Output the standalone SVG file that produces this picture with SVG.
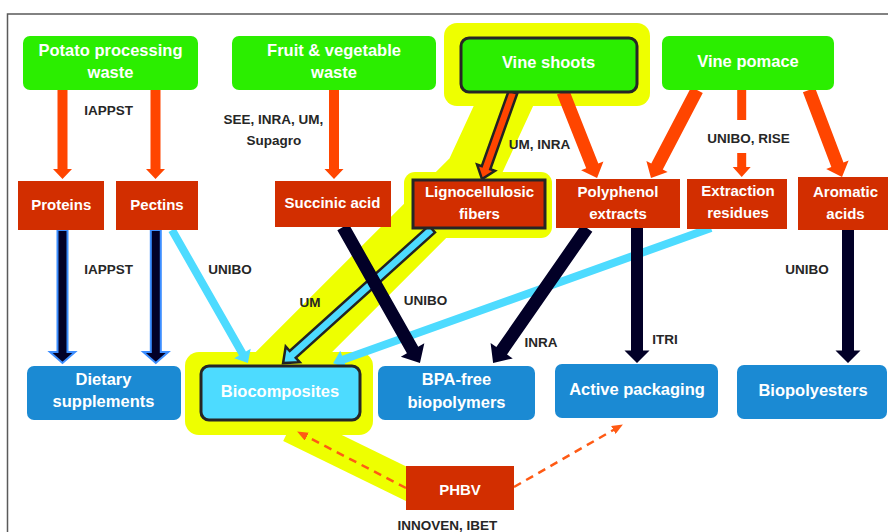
<svg xmlns="http://www.w3.org/2000/svg" width="888" height="532" viewBox="0 0 888 532">
  <defs>
    <style>
      .green { fill: #2BEE00; }
      .red { fill: #D22E00; }
      .blue { fill: #1B8AD3; }
      .outlined { stroke: #262626; stroke-width: 3; }
      .halo { fill: #EEFF00; }
      .t { font-family: "Liberation Sans", Arial, sans-serif; font-weight: bold; fill: #FFFFFF; text-anchor: middle; }
      .t16 { font-size: 16.5px; }
      .t15 { font-size: 15px; }
      .lbl { font-family: "Liberation Sans", Arial, sans-serif; font-weight: bold; font-size: 13.5px; fill: #262626; text-anchor: middle; }
      .orange { fill: #FF4500; }
      .navy { fill: #020027; }
      .navy-edged { fill: #020027; stroke: #3D8EFF; stroke-width: 2; stroke-linejoin: miter; }
      .cyan { fill: #4DDBFF; }
      .edged { stroke: #222222; stroke-width: 2.5; stroke-linejoin: miter; }
      .dashed { fill: none; stroke: #FF5A14; stroke-width: 2.5; stroke-dasharray: 8 6; }
    </style>
    <marker id="dash-head" markerUnits="userSpaceOnUse" markerWidth="11" markerHeight="9" refX="2" refY="4.5" orient="auto">
      <path d="M0,0 L11,4.5 L0,9 z" fill="#FF5A14"/>
    </marker>
  </defs>

  <rect width="888" height="532" fill="#FFFFFF"/>

  <!-- page frame -->
  <path d="M7.5,532 V14 H888" fill="none" stroke="#5A5A5A" stroke-width="1.5"/>

  <!-- highlighted route: vine shoots -> fibres -> biocomposites <- PHBV -->
  <g id="highlight">
    <polyline points="520,70 472,174 272,374" fill="none" stroke="#EEFF00" stroke-width="54" stroke-linejoin="round"/>
    <line x1="290" y1="427" x2="425" y2="493" stroke="#EEFF00" stroke-width="31"/>
    <rect class="halo" x="444" y="23" width="206" height="83" rx="13"/>
    <rect class="halo" x="404" y="172" width="148" height="66" rx="11"/>
    <rect class="halo" x="185" y="352" width="188" height="83" rx="14"/>
  </g>

  <!-- connectors -->
  <g id="connectors">
    <!-- light blue: into biocomposites -->
    <polygon class="cyan" transform="translate(172,230) rotate(60.3)" points="0,-4 142.2,-4 142.2,-9.5 153.2,0 142.2,9.5 142.2,4 0,4"/>
    <polygon class="cyan" transform="translate(711,228) rotate(160.3)" points="0,-4 390.4,-4 390.4,-9.5 401.4,0 390.4,9.5 390.4,4 0,4"/>
    <polygon class="cyan edged" transform="translate(432,229) rotate(138)" points="0,-4.5 187.4,-4.5 187.4,-10.5 200.4,0 187.4,10.5 187.4,4.5 0,4.5"/>

    <!-- dark: products -->
    <polygon class="navy-edged" transform="translate(62.5,230) rotate(90)" points="0,-5 122,-5 122,-12.5 133,0 122,12.5 122,5 0,5"/>
    <polygon class="navy-edged" transform="translate(155.8,230) rotate(90)" points="0,-5 122,-5 122,-12.5 133,0 122,12.5 122,5 0,5"/>
    <polygon class="navy" transform="translate(343,227) rotate(60.5)" points="0,-6.5 141.3,-6.5 141.3,-13.5 156.3,0 141.3,13.5 141.3,6.5 0,6.5"/>
    <polygon class="navy" transform="translate(587,228) rotate(124.8)" points="0,-6.5 149.5,-6.5 149.5,-13.5 164.5,0 149.5,13.5 149.5,6.5 0,6.5"/>
    <polygon class="navy" transform="translate(637,228) rotate(90)" points="0,-6 122.5,-6 122.5,-12.5 135,0 122.5,12.5 122.5,6 0,6"/>
    <polygon class="navy" transform="translate(848,230) rotate(90)" points="0,-6 120.5,-6 120.5,-12.5 133,0 120.5,12.5 120.5,6 0,6"/>

    <!-- orange: raw material -> intermediates -->
    <polygon class="orange" transform="translate(62.5,90) rotate(90)" points="0,-5 79,-5 79,-9.5 89,0 79,9.5 79,5 0,5"/>
    <polygon class="orange" transform="translate(155.5,90) rotate(90)" points="0,-5 79,-5 79,-9.5 89,0 79,9.5 79,5 0,5"/>
    <polygon class="orange" transform="translate(334,90) rotate(90)" points="0,-5 79,-5 79,-9.5 89,0 79,9.5 79,5 0,5"/>
    <polygon class="orange" transform="translate(563,92) rotate(68.4)" points="0,-6.5 79.5,-6.5 79.5,-12 92.5,0 79.5,12 79.5,6.5 0,6.5"/>
    <polygon class="orange" transform="translate(697,90) rotate(117.6)" points="0,-6.5 86.3,-6.5 86.3,-12 99.3,0 86.3,12 86.3,6.5 0,6.5"/>
    <rect class="orange" x="737.2" y="90" width="9" height="30"/>
    <polygon class="orange" transform="translate(741.7,153) rotate(90)" points="0,-4.5 14,-4.5 14,-9 24,0 14,9 14,4.5 0,4.5"/>
    <polygon class="orange" transform="translate(809,90) rotate(69.2)" points="0,-6.5 80,-6.5 80,-12 93,0 80,12 80,6.5 0,6.5"/>
    <polygon class="orange edged" transform="translate(513,92) rotate(109.6)" points="0,-4.5 80.4,-4.5 80.4,-9.5 92.4,0 80.4,9.5 80.4,4.5 0,4.5"/>

    <!-- dashed: PHBV -->
    <line class="dashed" x1="406" y1="488" x2="305.1" y2="435.7" marker-end="url(#dash-head)"/>
    <line class="dashed" x1="514" y1="487" x2="615.1" y2="429" marker-end="url(#dash-head)"/>
  </g>

  <!-- connector labels -->
  <g id="labels">
    <text class="lbl" x="108.7" y="115">IAPPST</text>
    <text class="lbl" x="273.5" y="124">SEE, INRA, UM,</text>
    <text class="lbl" x="273.8" y="144.5">Supagro</text>
    <text class="lbl" x="539.5" y="148.5">UM, INRA</text>
    <text class="lbl" x="748.5" y="143">UNIBO, RISE</text>
    <text class="lbl" x="108.7" y="274">IAPPST</text>
    <text class="lbl" x="230" y="274">UNIBO</text>
    <text class="lbl" x="310" y="307">UM</text>
    <text class="lbl" x="425.5" y="305">UNIBO</text>
    <text class="lbl" x="541" y="347">INRA</text>
    <text class="lbl" x="665" y="344">ITRI</text>
    <text class="lbl" x="807" y="274">UNIBO</text>
    <text class="lbl" x="447.5" y="530">INNOVEN, IBET</text>
  </g>

  <!-- raw materials -->
  <g id="potato-waste">
    <rect class="green" x="23" y="36" width="175" height="54" rx="7"/>
    <text class="t t16" x="110.5" y="56">Potato processing</text>
    <text class="t t16" x="110.5" y="78">waste</text>
  </g>
  <g id="fruit-veg-waste">
    <rect class="green" x="232" y="36" width="204" height="54" rx="7"/>
    <text class="t t16" x="334" y="56">Fruit &amp; vegetable</text>
    <text class="t t16" x="334" y="78">waste</text>
  </g>
  <g id="vine-shoots">
    <rect class="green outlined" x="461" y="38" width="176" height="54" rx="8"/>
    <text class="t t16" x="548.5" y="68">Vine shoots</text>
  </g>
  <g id="vine-pomace">
    <rect class="green" x="662" y="36" width="172" height="54" rx="7"/>
    <text class="t t16" x="748" y="67">Vine pomace</text>
  </g>

  <!-- intermediates -->
  <g id="proteins">
    <rect class="red" x="18" y="181" width="86" height="49"/>
    <text class="t t15" x="61.3" y="209.5">Proteins</text>
  </g>
  <g id="pectins">
    <rect class="red" x="116" y="181" width="82" height="49"/>
    <text class="t t15" x="157" y="209.5">Pectins</text>
  </g>
  <g id="succinic-acid">
    <rect class="red" x="275" y="181" width="116" height="46"/>
    <text class="t t15" x="332.5" y="208">Succinic acid</text>
  </g>
  <g id="lignocellulosic-fibers">
    <rect class="red outlined" x="413" y="180" width="132" height="48"/>
    <text class="t t15" x="479.5" y="197">Lignocellulosic</text>
    <text class="t t15" x="479.5" y="218.5">fibers</text>
  </g>
  <g id="polyphenol-extracts">
    <rect class="red" x="556" y="179" width="124" height="49"/>
    <text class="t t15" x="618" y="197">Polyphenol</text>
    <text class="t t15" x="618" y="218.5">extracts</text>
  </g>
  <g id="extraction-residues">
    <rect class="red" x="687" y="179" width="100" height="50"/>
    <text class="t t15" x="738" y="196">Extraction</text>
    <text class="t t15" x="738" y="217.5">residues</text>
  </g>
  <g id="aromatic-acids">
    <rect class="red" x="798" y="177" width="90" height="53"/>
    <text class="t t15" x="845.5" y="197">Aromatic</text>
    <text class="t t15" x="845.5" y="218.5">acids</text>
  </g>

  <!-- products -->
  <g id="dietary-supplements">
    <rect class="blue" x="27" y="366" width="154" height="54" rx="7"/>
    <text class="t t16" x="103.5" y="385">Dietary</text>
    <text class="t t16" x="103.5" y="407">supplements</text>
  </g>
  <g id="biocomposites">
    <rect fill="#4DDBFF" class="outlined" x="201" y="366" width="159" height="54" rx="8"/>
    <text class="t t16" x="280" y="397">Biocomposites</text>
  </g>
  <g id="bpa-free-biopolymers">
    <rect class="blue" x="378" y="366" width="157" height="54" rx="7"/>
    <text class="t t16" x="456.5" y="385">BPA-free</text>
    <text class="t t16" x="456.5" y="408">biopolymers</text>
  </g>
  <g id="active-packaging">
    <rect class="blue" x="555" y="364" width="163" height="54" rx="7"/>
    <text class="t t16" x="637" y="394.5">Active packaging</text>
  </g>
  <g id="biopolyesters">
    <rect class="blue" x="737" y="365" width="150" height="54" rx="7"/>
    <text class="t t16" x="813" y="396">Biopolyesters</text>
  </g>

  <!-- polymer matrix -->
  <g id="phbv">
    <rect class="red" x="406" y="466" width="108" height="44"/>
    <text class="t t15" x="460" y="494.5">PHBV</text>
  </g>
</svg>
